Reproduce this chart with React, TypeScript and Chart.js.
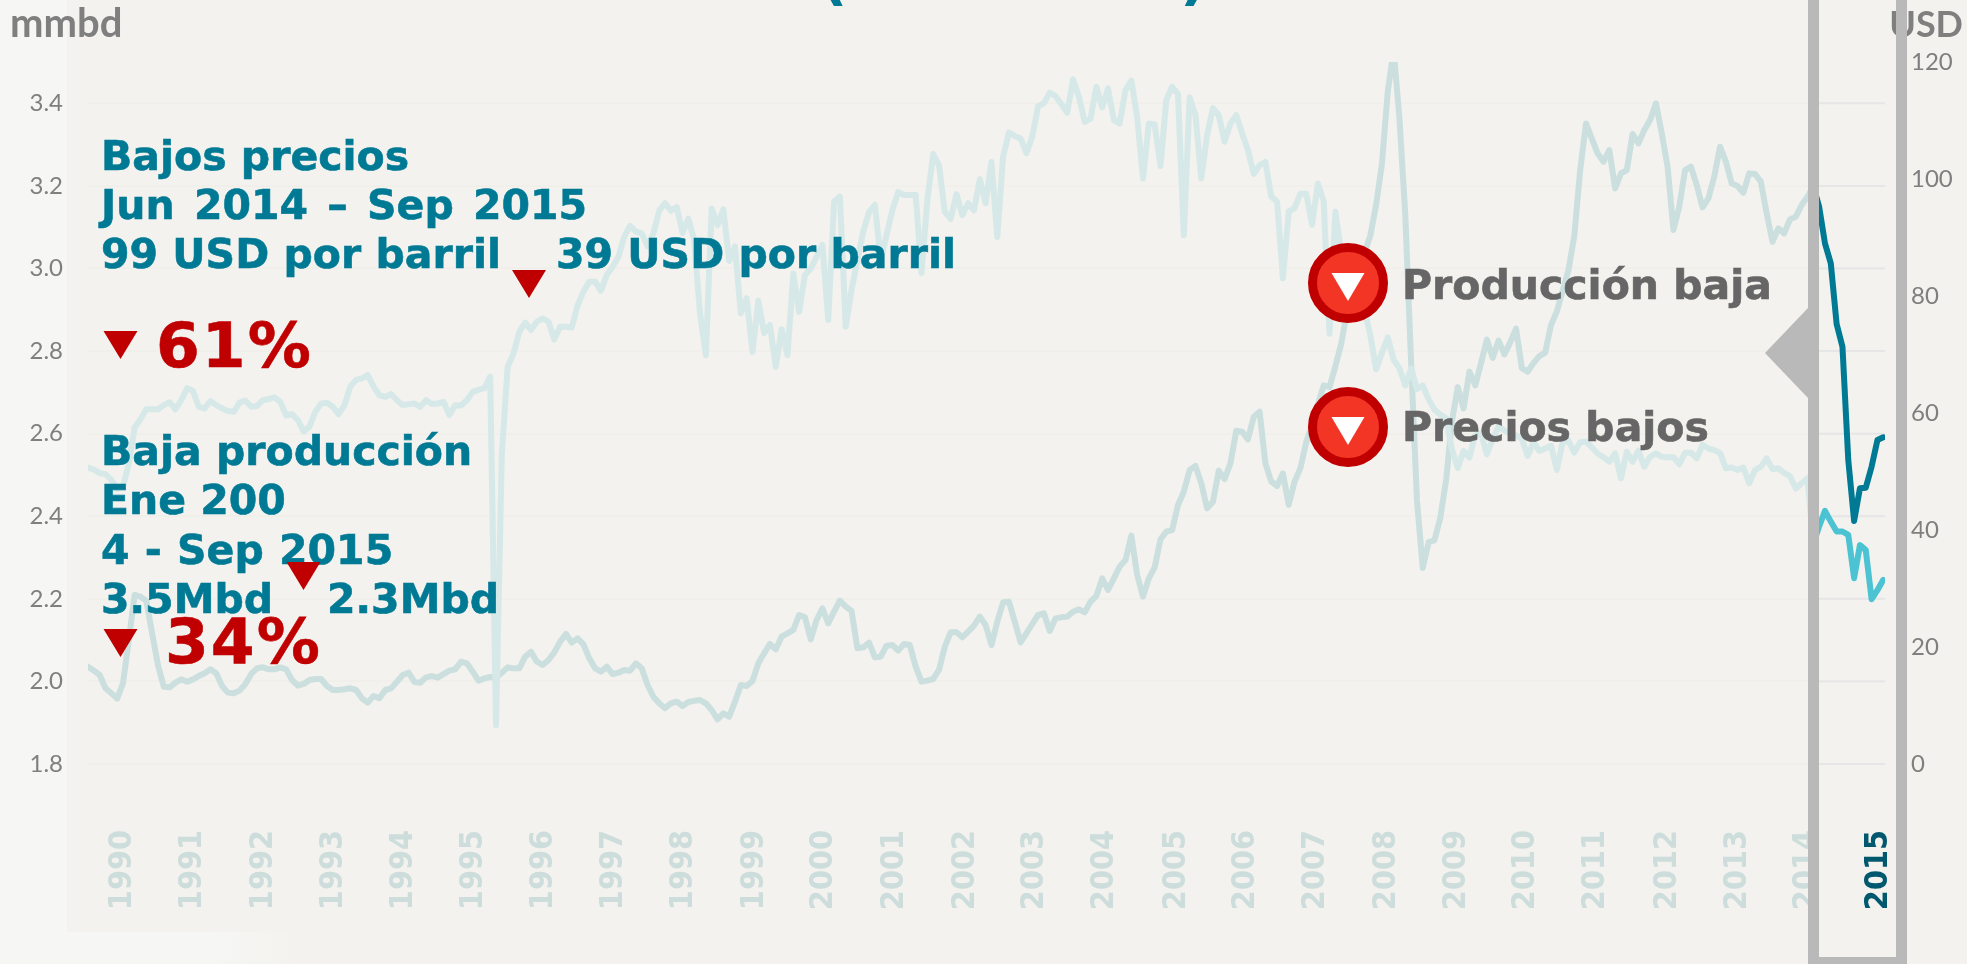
import React, { useEffect, useRef } from "react";
import { Chart, registerables } from "chart.js";

Chart.register(...registerables);

// Monthly series, Jan 1990 onward, index = months since Jan 1990
const productionFaded = [
  2.518,2.513,2.504,2.502,2.488,2.467,2.471,2.528,2.615,2.635,
  2.659,2.659,2.659,2.669,2.676,2.659,2.681,2.710,2.704,2.665,
  2.661,2.679,2.669,2.661,2.655,2.653,2.675,2.680,2.665,2.667,
  2.681,2.684,2.688,2.677,2.644,2.647,2.633,2.605,2.617,2.653,
  2.673,2.675,2.665,2.647,2.669,2.714,2.730,2.734,2.742,2.714,
  2.693,2.689,2.696,2.681,2.669,2.671,2.673,2.665,2.681,2.672,
  2.673,2.677,2.645,2.669,2.668,2.681,2.701,2.706,2.710,2.738,
  1.894,2.55,2.762,2.794,2.847,2.869,2.851,2.871,2.879,2.871,
  2.828,2.859,2.859,2.857,2.911,2.944,2.968,2.968,2.946,2.984,
  3.004,3.028,3.077,3.103,3.089,3.085,3.054,3.085,3.14,3.158,
  3.14,3.149,3.086,3.121,3.069,2.891,2.790,3.145,3.105,3.143,
  3.018,3.053,2.891,2.928,2.798,2.922,2.844,2.863,2.762,2.853,
  2.790,2.988,2.895,2.984,3.0,3.028,3.057,2.875,3.162,3.174,
  2.859,2.948,3.020,3.089,3.137,3.154,3.020,3.081,3.141,3.185,
  3.178,3.178,3.178,2.989,3.166,3.277,3.250,3.137,3.120,3.180,
  3.129,3.158,3.141,3.216,3.158,3.258,3.076,3.271,3.329,3.321,
  3.315,3.279,3.319,3.393,3.400,3.426,3.417,3.398,3.377,3.458,
  3.416,3.355,3.363,3.440,3.390,3.436,3.359,3.351,3.432,3.455,
  3.367,3.218,3.351,3.349,3.248,3.408,3.440,3.422,3.081,3.414,
  3.371,3.218,3.323,3.388,3.371,3.307,3.351,3.371,3.327,3.287,
  3.229,3.250,3.258,3.174,3.162,2.976,3.138,3.146,3.181,3.181,
  3.106,3.206,3.163,2.842,3.138,3.038,2.983,2.963,2.938,2.900,
  2.838,2.756,2.796,2.833,2.779,2.758,2.717,2.758,2.708,2.717,
  2.683,2.658,2.646,2.637,2.562,2.517,2.558,2.542,2.596,2.600,
  2.550,2.587,2.617,2.608,2.600,2.596,2.587,2.546,2.579,2.558,
  2.564,2.571,2.512,2.579,2.583,2.554,2.579,2.581,2.567,2.552,
  2.543,2.532,2.552,2.492,2.556,2.532,2.559,2.520,2.544,2.552,
  2.544,2.543,2.543,2.526,2.554,2.554,2.540,2.573,2.564,2.560,
  2.554,2.516,2.518,2.512,2.518,2.480,2.512,2.520,2.540,2.514,
  2.516,2.505,2.497,2.467,2.480,2.492,2.334,
];
const productionRecent = [2.334,2.375,2.413,2.387,2.363,2.363,2.355,2.250,2.330,2.318,2.199,2.221,2.246];

const priceFaded = [
  16.64,15.96,15.22,12.94,12.08,11.17,13.79,21.2,28.89,28.6,
  27.92,22.34,16.92,13.22,13.11,13.9,14.47,14.07,14.47,15.04,
  15.5,16.18,15.5,13.33,12.2,12.08,12.54,13.68,15.39,16.36,
  16.53,16.18,16.18,16.53,16.18,14.36,13.39,13.68,14.36,14.53,
  14.53,13.33,12.65,12.65,12.77,12.94,12.65,11.23,10.49,11.63,
  11.23,12.65,12.93,14.07,15.21,15.61,14.02,13.9,14.81,15.04,
  14.76,15.38,15.95,16.18,17.49,17.21,15.78,14.24,14.64,14.87,
  14.81,15.61,16.52,16.35,16.35,18.35,19.2,17.49,16.92,17.78,
  19.09,20.91,22.22,20.74,21.48,20.45,18.06,16.35,15.78,16.64,
  15.38,15.61,16.07,15.95,17.21,16.35,13.5,11.51,10.37,9.52,
  10.37,10.66,9.92,10.6,10.8,10.94,10.37,9.23,7.64,8.66,
  8.09,10.66,13.51,13.34,14.19,17.21,18.92,20.52,19.6,21.77,
  22.34,22.91,25.47,25.07,21.31,24.62,26.61,24.05,26.04,27.92,
  26.9,26.16,19.78,19.95,20.74,18.24,18.35,20.23,20.34,19.38,
  20.52,20.34,16.64,14.08,14.25,14.53,16.07,20.06,22.51,22.51,
  21.66,22.62,23.65,25.19,23.76,20.34,24.33,27.64,27.75,24.33,
  20.8,22.34,23.93,25.47,25.76,22.74,24.9,25.07,25.19,26.04,
  26.44,25.93,27.75,28.72,31.74,29.75,31.74,33.74,34.87,39.03,
  32.31,28.6,31.74,33.62,38.41,39.72,40.0,44.27,46.55,50.25,
  50.94,47.97,43.7,44.84,50.14,48.71,51.39,56.98,56.81,55.5,
  59.37,60.23,51.39,48.26,47.52,49.68,44.3,48.24,50.59,54.99,
  57.95,61.48,64.72,64.42,67.96,71.78,77.38,80.91,85.03,87.38,
  90.32,95.62,102.68,115.04,122,110.33,93.85,68.55,45.0,33.52,
  37.94,38.23,42.06,48.53,58.54,64.42,60.78,67.07,64.72,68.55,
  72.55,69.43,72.37,70.02,72.08,74.43,67.66,67.07,68.55,69.72,
  70.31,75.02,77.38,80.91,84.44,90.32,101.5,109.5,106.9,104.38,
  102.96,104.95,98.4,100.96,101.53,107.69,106.09,108.37,110.08,112.93,
  107.8,102.1,91.28,95.27,101.53,102.1,98.97,95.15,96.69,100.39,
  105.52,102.96,99.25,98.8,97.66,100.96,100.85,99.54,94.13,89.28,
  91.56,90.71,93.1,93.56,95.55,96.98,98.7,
];
const priceRecent = [98.7,95.27,89.0,85.58,75.2,71.34,51.96,41.53,47.12,47.23,50.82,55.38,55.84];

const recentStart = 296;
const yearLabels = ["1990","1991","1992","1993","1994","1995","1996","1997","1998","1999","2000","2001","2002","2003","2004","2005","2006","2007","2008","2009","2010","2011","2012","2013","2014","2015"];
const yearTickMonths = [6,18,30.1,42.1,54.1,66.2,78.2,90.2,102.2,114.3,126.3,138.4,150.5,162.5,174.5,186.7,198.7,210.7,222.8,234.8,246.7,258.7,271.1,283.1,294.8,307.3];
const leftTicks = [1.8,2.0,2.2,2.4,2.6,2.8,3.0,3.2,3.4];
const rightTicks = [0,20,40,60,80,100,120];

const teal = "#007a94";
const red = "#c00000";
const grayText = "#666666";
const boxGray = "#b9b9b9";
const HEAD = "'DejaVu Sans', sans-serif";

const tealLines: [string, number, number, string][] = [
  ["Bajos precios", 101, 170, "0px"],
  ["Jun 2014 – Sep 2015", 101, 219, "5px"],
  ["99 USD por barril", 101, 268, "0px"],
  ["39 USD por barril", 556, 268, "0px"],
  ["Baja producción", 101, 465, "0px"],
  ["Ene 200", 101, 514, "0px"],
  ["4 - Sep 2015", 101, 564, "1px"],
  ["3.5Mbd", 101, 613, "0px"],
  ["2.3Mbd", 327, 613, "0px"],
];
const redLines: [string, number, number][] = [
  ["61%", 156, 367],
  ["34%", 165, 663],
];
const redMarkers: [number, number][] = [[529, 270], [120.5, 331], [303.5, 562], [120.5, 629]];
const calloutRows: [string, number, number, number][] = [
  ["Producción baja", 1402, 299, 283],
  ["Precios bajos", 1402, 441, 427],
];

function tri(c: CanvasRenderingContext2D, cx: number, top: number, w: number, h: number, color: string) {
  c.fillStyle = color;
  c.beginPath();
  c.moveTo(cx - w / 2, top);
  c.lineTo(cx + w / 2, top);
  c.lineTo(cx, top + h);
  c.closePath();
  c.fill();
}

function heavyText(c: any, s: string, x: number, y: number, color: string) {
  c.fillStyle = color;
  c.strokeStyle = color;
  c.lineWidth = 0.6;
  c.fillText(s, x, y);
  c.strokeText(s, x, y);
}

const decorations = {
  id: "decorations",
  beforeDraw(chart: any) {
    const c = chart.ctx;
    c.save();
    c.fillStyle = "#f3f2ee";
    c.fillRect(0, 0, chart.width, chart.height);
    c.fillStyle = "#f6f6f4";
    c.fillRect(0, 0, 67, 932);
    const g = c.createLinearGradient(0, 0, 300, 0);
    g.addColorStop(0, "#f6f6f4");
    g.addColorStop(0.7, "#f6f6f4");
    g.addColorStop(1, "#f3f2ee");
    c.fillStyle = g;
    c.fillRect(0, 932, 300, 32);
    c.restore();
  },
  beforeDatasetsDraw(chart: any) {
    const c = chart.ctx;
    const y = chart.scales.y;
    c.save();
    c.strokeStyle = "#e6e6e7";
    c.lineWidth = 2;
    y.ticks.forEach((t: any) => {
      const p = y.getPixelForValue(t.value);
      c.beginPath();
      c.moveTo(1815, p);
      c.lineTo(chart.chartArea.right, p);
      c.stroke();
    });
    c.restore();
  },
  afterDatasetsDraw(chart: any) {
    const c = chart.ctx;
    c.save();
    c.textBaseline = "alphabetic";
    c.textAlign = "left";

    // cut-off title brackets
    c.fillStyle = teal;
    c.font = `bold 60px ${HEAD}`;
    c.fillText("(", 820, -2);
    c.fillText(")", 1180, -2);

    // axis units
    c.fillStyle = "#7f7f7f";
    c.font = "bold 40px Lato, sans-serif";
    c.fillText("mmbd", 10, 37);
    c.font = "bold 36px Lato, sans-serif";
    c.textAlign = "right";
    c.fillText("USD", 1963, 37);
    c.textAlign = "left";

    c.font = `bold 41px ${HEAD}`;
    tealLines.forEach(([s, x, y, gap]) => {
      c.wordSpacing = gap;
      heavyText(c, s, x, y, teal);
    });
    c.wordSpacing = "0px";

    c.font = `bold 63px ${HEAD}`;
    c.letterSpacing = "2px";
    redLines.forEach(([s, x, y]) => heavyText(c, s, x, y, red));
    c.letterSpacing = "0px";
    redMarkers.forEach(([x, y]) => tri(c, x, y, 34, 28, red));

    // callouts
    calloutRows.forEach(([s, x, y, cy]) => {
      c.beginPath();
      c.arc(1348, cy, 35.5, 0, Math.PI * 2);
      c.fillStyle = "#f23524";
      c.fill();
      c.lineWidth = 9;
      c.strokeStyle = red;
      c.stroke();
      tri(c, 1348, cy - 10, 33, 28, "#ffffff");
      c.font = `bold 41px ${HEAD}`;
      heavyText(c, s, x, y, grayText);
    });

    // highlight frame for the last stretch
    c.fillStyle = boxGray;
    c.fillRect(1808, 0, 11, 964);
    c.fillRect(1896, 0, 11, 964);
    c.fillRect(1808, 957, 99, 7);
    c.beginPath();
    c.moveTo(1765, 353);
    c.lineTo(1808, 308);
    c.lineTo(1808, 398);
    c.closePath();
    c.fill();
    c.restore();
  },
};

const toXY = (arr: number[], start = 0) => arr.map((y, i) => ({ x: start + i, y }));

export default function App() {
  const ref = useRef<HTMLCanvasElement>(null);
  useEffect(() => {
    const lineBase = { pointRadius: 0, borderWidth: 6, tension: 0, borderJoinStyle: "round", borderCapStyle: "round", fill: false };
    const chart = new Chart(ref.current!, {
      type: "line",
      data: {
        datasets: [
          { ...lineBase, label: "Producción", data: toXY(productionFaded), yAxisID: "y", borderColor: "#d6e9e8" },
          { ...lineBase, label: "Precio", data: toXY(priceFaded), yAxisID: "y2", borderColor: "#cbdfdf" },
          { ...lineBase, label: "Producción 2015", data: toXY(productionRecent, recentStart), yAxisID: "y", borderColor: "#4bc3d3" },
          { ...lineBase, label: "Precio 2015", data: toXY(priceRecent, recentStart), yAxisID: "y2", borderColor: teal },
        ] as any,
      },
      plugins: [decorations],
      options: {
        responsive: false,
        animation: false,
        devicePixelRatio: 1,
        layout: { padding: { top: 62, left: 0, right: 0, bottom: 0 } },
        plugins: { legend: { display: false }, tooltip: { enabled: false }, title: { display: false } },
        scales: {
          x: {
            type: "linear",
            min: 0,
            max: 308.3,
            afterBuildTicks: (s: any) => { s.ticks = yearTickMonths.map((value) => ({ value })); },
            afterFit: (s: any) => { s.height = 200; s.paddingLeft = 0; s.paddingRight = 0; },
            grid: { display: false, drawTicks: false },
            border: { display: false },
            ticks: {
              autoSkip: false,
              minRotation: 90,
              maxRotation: 90,
              padding: 66,
              callback: (_v: any, i: number) => yearLabels[i],
              color: (ctx: any) => (ctx.index === yearLabels.length - 1 ? "#00586e" : "#cddddb"),
              font: { family: "'DejaVu Sans Condensed', 'DejaVu Sans', sans-serif", size: 32, weight: "bold" },
            },
          },
          y: {
            position: "left",
            min: 1.8,
            max: 3.5,
            afterBuildTicks: (s: any) => { s.ticks = leftTicks.map((value) => ({ value })); },
            afterFit: (s: any) => { s.width = 88; s.paddingTop = 0; s.paddingBottom = 0; },
            grid: { color: "#f0efea", lineWidth: 2, drawTicks: false },
            border: { display: false },
            ticks: {
              padding: 25,
              color: "#7f7f7f",
              font: { family: "Lato, sans-serif", size: 24 },
              callback: (v: any) => Number(v).toFixed(1),
            },
          },
          y2: {
            position: "right",
            min: 0,
            max: 120,
            afterBuildTicks: (s: any) => { s.ticks = rightTicks.map((value) => ({ value })); },
            afterFit: (s: any) => { s.width = 82; s.paddingTop = 0; s.paddingBottom = 0; },
            grid: { display: false, drawTicks: false },
            border: { display: false },
            ticks: {
              padding: 26,
              color: "#7f7f7f",
              font: { family: "Lato, sans-serif", size: 24 },
              callback: (v: any) => String(v),
            },
          },
        },
      } as any,
    });
    return () => chart.destroy();
  }, []);
  return <canvas ref={ref} width={1967} height={964} style={{ position: "absolute", left: 0, top: 0, display: "block" }} />;
}
